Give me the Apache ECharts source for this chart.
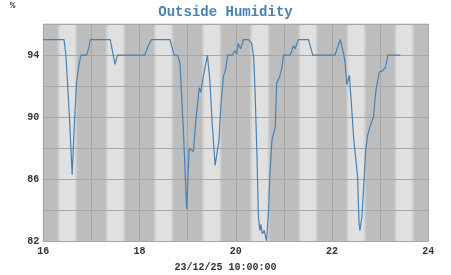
<!DOCTYPE html>
<html>
<head>
<meta charset="utf-8">
<script src="https://cdn.jsdelivr.net/npm/echarts@6/dist/echarts.min.js"></script>
<style>html,body{margin:0;padding:0;background:#fff}#c{width:451px;height:275px}</style>
</head>
<body>
<div id="c"></div>
<script>
var titleText = 'Outside Humidity';
var unitText = '%';
var dateText = '23/12/25 10:00:00';
var hours = [16.00,16.43,16.47,16.54,16.60,16.64,16.69,16.73,16.78,16.90,16.94,16.98,17.39,17.49,17.54,18.11,18.18,18.25,18.63,18.72,18.79,18.84,18.91,18.98,19.03,19.07,19.12,19.17,19.24,19.27,19.33,19.41,19.46,19.51,19.57,19.61,19.65,19.69,19.74,19.79,19.83,19.93,19.98,20.02,20.05,20.10,20.16,20.26,20.33,20.37,20.40,20.44,20.47,20.50,20.52,20.55,20.59,20.62,20.64,20.68,20.71,20.75,20.82,20.85,20.91,20.96,20.99,21.13,21.20,21.23,21.30,21.51,21.60,22.06,22.17,22.19,22.24,22.27,22.31,22.36,22.39,22.42,22.45,22.49,22.53,22.56,22.58,22.62,22.67,22.70,22.74,22.81,22.86,22.91,22.98,23.05,23.11,23.16,23.42];
var humidity = [95,95,94,90.2,86.3,89.2,92.2,93.2,94,94,94.4,95,95,93.4,94,94,94.6,95,95,94,94,93.5,89.2,84.1,88.0,88.1,87.8,89.8,91.9,91.6,92.7,94.0,92.4,89.6,86.9,87.0,88.5,90.7,92.6,93.1,94.0,94.0,94.3,94.06,94.75,94.4,95,95,94.75,93.9,91.7,87.5,83.6,82.7,83.1,82.5,82.7,82.3,82.05,84.0,86.4,88.5,89.4,92.2,92.6,93.2,94,94,94.6,94.4,95,95,94,94,95,95,94.1,93.5,92.1,92.7,91.4,90.0,88.6,88.5,86.2,83.2,82.7,83.6,86.2,87.9,88.85,89.6,90.0,91.7,92.9,93.0,93.2,94,94];
var xTicks = [16,18,20,22,24];
var yTicks = [82,86,90,94];
var bandHours = [16,17,18,19,20,21,22,23];

var chart = echarts.init(document.getElementById('c'), null, {renderer:'canvas'});
var pts = hours.map(function(h,i){return [h, humidity[i]];});
var outer = bandHours.map(function(h){return [{xAxis:h+0.30},{xAxis:h+0.70}];});
var inner = bandHours.map(function(h){return [{xAxis:h+0.34},{xAxis:h+0.66}];});
var font = '"Liberation Mono", "DejaVu Sans Mono", monospace';
chart.setOption({
  animation:false,
  backgroundColor:'#ffffff',
  title:{text:titleText,left:'center',top:0,textStyle:{fontFamily:font,fontSize:14,fontWeight:'bold',color:'#4682b4'}},
  graphic:[
    {type:'text',left:10,top:1,style:{text:unitText,font:'bold 9px '+font,fill:'#333'}},
    {type:'text',left:'center',top:262,style:{text:dateText,font:'bold 10px '+font,fill:'#333'}}
  ],
  grid:{left:43.3,right:22.7,top:24,bottom:33.5,show:true,backgroundColor:'#bdbdbd',borderColor:'#c8c8c8',borderWidth:1},
  xAxis:{type:'value',min:16,max:24,interval:1,z:3,
    axisLine:{show:false},axisTick:{show:false},
    splitLine:{show:true,lineStyle:{color:'#a7a7a7',width:1}},
    axisLabel:{margin:5,fontFamily:font,fontSize:10,fontWeight:'bold',color:'#333',
      formatter:function(v){return xTicks.indexOf(v)>=0?String(v):'';}}},
  yAxis:{type:'value',min:82,max:96,interval:2,z:3,
    axisLine:{show:false},axisTick:{show:false},
    splitLine:{show:true,lineStyle:{color:'#a7a7a7',width:1}},
    axisLabel:{margin:4,fontFamily:font,fontSize:10,fontWeight:'bold',color:'#333',
      formatter:function(v){return yTicks.indexOf(v)>=0?String(v):'';}}},
  series:[
    {type:'line',z:1,data:[],silent:true,markArea:{silent:true,itemStyle:{color:'#d0d0d0'},data:outer}},
    {type:'line',z:2,data:[],silent:true,markArea:{silent:true,itemStyle:{color:'#e0e0e0'},data:inner}},
    {type:'line',z:5,data:pts,showSymbol:false,symbol:'none',lineStyle:{color:'#4682b4',width:1.2},itemStyle:{color:'#4682b4'}}
  ]
});
</script>
</body>
</html>
